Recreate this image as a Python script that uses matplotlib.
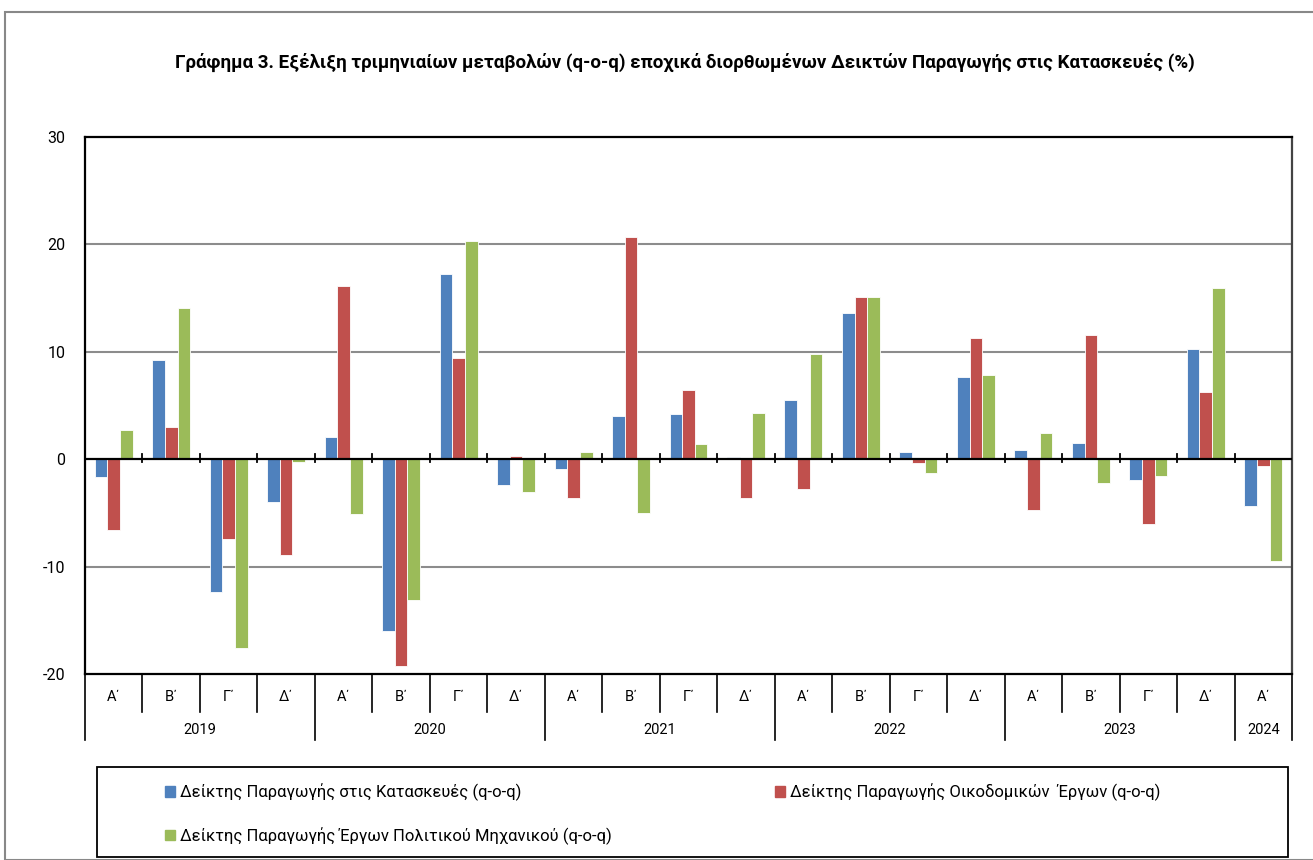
import matplotlib
matplotlib.use('Agg')
import matplotlib.pyplot as plt
from matplotlib.patches import Rectangle, Patch
from matplotlib.lines import Line2D
import numpy as np

plt.rcParams['font.family'] = ['Roboto', 'DejaVu Sans']
plt.rcParams['axes.unicode_minus'] = False

quarters = ['Α΄', 'Β΄', 'Γ΄', 'Δ΄'] * 5 + ['Α΄']
years = ['2019', '2020', '2021', '2022', '2023', '2024']
year_counts = [4, 4, 4, 4, 4, 1]

construction = [-1.7, 9.2, -12.4, -4.0, 2.1, -16.0, 17.2, -2.4,
                -0.9, 4.0, 4.2, 0.2, 5.5, 13.6, 0.7, 7.7,
                0.9, 1.5, -1.9, 10.3, -4.4]
buildings = [-6.6, 3.0, -7.4, -8.9, 16.1, -19.3, 9.4, 0.3,
             -3.6, 20.7, 6.4, -3.6, -2.8, 15.1, -0.4, 11.3,
             -4.7, 11.6, -6.0, 6.3, -0.6]
civil = [2.7, 14.1, -17.6, -0.3, -5.1, -13.1, 20.3, -3.1,
         0.7, -5.0, 1.4, 4.3, 9.8, 15.1, -1.3, 7.8,
         2.4, -2.2, -1.6, 15.9, -9.5]

labels = ['Δείκτης Παραγωγής στις Κατασκευές (q-o-q)',
          'Δείκτης Παραγωγής Οικοδομικών  Έργων (q-o-q)',
          'Δείκτης Παραγωγής Έργων Πολιτικού Μηχανικού (q-o-q)']
colors = ['#4F81BD', '#C0504D', '#9BBB59']
title = 'Γράφημα 3. Εξέλιξη τριμηνιαίων μεταβολών (q-o-q) εποχικά διορθωμένων Δεικτών Παραγωγής στις Κατασκευές (%)'

W, H = 1313, 860
fig = plt.figure(figsize=(W / 100, H / 100), dpi=100)
fig.patches.append(Rectangle((5 / W, 0), 1.2, 1 - 12 / H, transform=fig.transFigure,
                             fill=False, edgecolor='#888888', lw=1.5))

left, right, top, bottom = 85, 1292, 137, 674
ax = fig.add_axes([left / W, 1 - bottom / H, (right - left) / W, (bottom - top) / H])

x = np.arange(len(quarters))
w = 0.22
for k, (vals, c) in enumerate(zip([construction, buildings, civil], colors)):
    ax.bar(x + (k - 1) * w, vals, width=w, color=c, edgecolor='white', linewidth=0.6, zorder=3)

ax.set_xlim(-0.5, len(quarters) - 0.5)
ax.set_ylim(-20, 30)
ax.set_yticks([-20, -10, 0, 10, 20, 30])
ax.tick_params(axis='y', length=0, labelsize=11.5, pad=14)
ax.set_xticks([])
for yv in [-10, 10, 20]:
    ax.axhline(yv, color='#8c8c8c', lw=1.5, zorder=1)
ax.axhline(0, color='black', lw=1.6, zorder=4)
for b in np.arange(0.5, len(quarters) - 0.5, 1):
    ax.plot([b, b], [-0.3, 0.5], color='black', lw=1.3, zorder=4)
for s in ['left', 'top', 'bottom']:
    ax.spines[s].set_linewidth(1.6)
    ax.spines[s].set_color('black')
ax.spines['right'].set_linewidth(1.6)
ax.spines['right'].set_color('#444444')

tr = ax.get_xaxis_transform()
ah = bottom - top
q_y = -(697 - bottom) / ah
y_y = -(730 - bottom) / ah
q_sep = -(712 - bottom) / ah
y_sep = -(740 - bottom) / ah
for i, q in enumerate(quarters):
    ax.text(i, q_y, q, transform=tr, ha='center', va='center', fontsize=10.5)
pos = -0.5
ax.add_line(Line2D([pos, pos], [0, y_sep], transform=tr, color='black', lw=1.2, clip_on=False))
for yr, n in zip(years, year_counts):
    ax.text(pos + n / 2, y_y, yr, transform=tr, ha='center', va='center', fontsize=10.5)
    for j in range(1, n):
        ax.add_line(Line2D([pos + j, pos + j], [0, q_sep], transform=tr, color='black', lw=1.2, clip_on=False))
    pos += n
    ax.add_line(Line2D([pos, pos], [0, y_sep], transform=tr, color='black', lw=1.2, clip_on=False))

fig.text(0.5 * (173 + 1196) / W, 1 - 62 / H, title, ha='center', va='center',
         fontsize=13.5, fontweight='bold')

fig.patches.append(Rectangle((97 / W, 1 - 857 / H), (1288 - 97) / W, (857 - 767) / H,
                             transform=fig.transFigure, fill=False, edgecolor='black', lw=1.3))
handles = [Patch(color=c) for c in colors]
order = [0, 2, 1]
fig.legend([handles[i] for i in order], [labels[i] for i in order], ncol=2,
           loc='upper left', bbox_to_anchor=(165 / W, 1 - 792 / H, (1160 - 165) / W, 0.01),
           mode='expand', frameon=False, fontsize=12, handlelength=0.6, handleheight=0.6,
           handletextpad=0.3, labelspacing=1.55, borderaxespad=0, borderpad=0)

fig.savefig('out.png', dpi=100)
